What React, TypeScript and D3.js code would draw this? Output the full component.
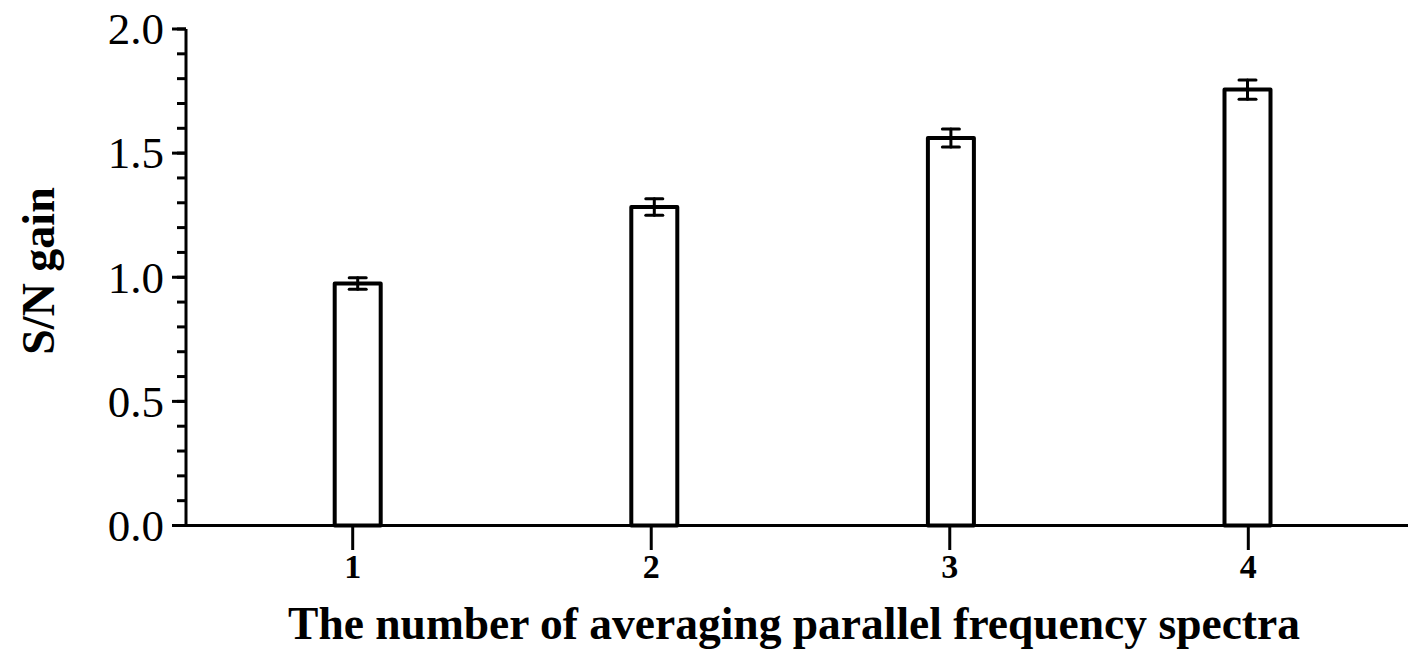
import React from "react";
import * as d3 from "d3";

// values
const categories = [1, 2, 3, 4];
const gains = [0.975, 1.283, 1.561, 1.756];
const errors = [0.023, 0.033, 0.036, 0.039];
const majorTicks = [0, 0.5, 1.0, 1.5, 2.0];
const minorTicks = d3.range(0, 2.001, 0.1);

const W = 1408;
const H = 651;
const font = "'Times New Roman', 'Liberation Serif', serif";

export default function App() {
  const y = d3.scaleLinear().domain([0, 2]).range([525.5, 29]);
  // tick positions and bar centres differ slightly in the original
  const x = d3.scaleLinear().domain([1, 4]).range([352.7, 1248.3]);
  const xBar = d3.scaleLinear().domain([1, 4]).range([357.7, 1247.5]);
  const axisX = 186;
  const barW = 46;
  const capW = 17;

  return (
    <svg
      width={W}
      height={H}
      style={{ position: "absolute", left: 0, top: 0, background: "#fff" }}
    >
      {/* y axis */}
      <line x1={axisX} x2={axisX} y1={y(2)} y2={y(0)} stroke="#000" strokeWidth={3} />
      {minorTicks.map((t) => (
        <line
          key={"mi" + t}
          x1={axisX - 9}
          x2={axisX}
          y1={y(t)}
          y2={y(t)}
          stroke="#000"
          strokeWidth={3}
        />
      ))}
      {majorTicks.map((t) => (
        <g key={"ma" + t}>
          <line x1={axisX - 14} x2={axisX} y1={y(t)} y2={y(t)} stroke="#000" strokeWidth={3} />
          <text
            x={axisX - 22}
            y={y(t)}
            dy="0.34em"
            textAnchor="end"
            fontFamily={font}
            fontSize={45}
          >
            {d3.format(".1f")(t)}
          </text>
        </g>
      ))}

      {/* x axis */}
      <line x1={axisX} x2={W} y1={y(0)} y2={y(0)} stroke="#000" strokeWidth={3} />
      {categories.map((c) => (
        <g key={"xt" + c}>
          <line x1={x(c)} x2={x(c)} y1={y(0)} y2={550} stroke="#000" strokeWidth={3} />
          <text
            x={x(c)}
            y={578}
            textAnchor="middle"
            fontFamily={font}
            fontWeight="bold"
            fontSize={34}
          >
            {c}
          </text>
        </g>
      ))}

      {/* bars */}
      {categories.map((c, i) => (
        <rect
          key={"b" + c}
          x={xBar(c) - barW / 2}
          y={y(gains[i])}
          width={barW}
          height={y(0) - y(gains[i])}
          fill="#fff"
          stroke="#000"
          strokeWidth={4}
          strokeLinejoin="round"
        />
      ))}

      {/* error bars */}
      {categories.map((c, i) => {
        const cx = xBar(c);
        const top = y(gains[i] + errors[i]);
        const bot = y(gains[i] - errors[i]);
        return (
          <g key={"e" + c} stroke="#000" strokeWidth={3} strokeLinecap="round">
            <line x1={cx} x2={cx} y1={top} y2={bot} />
            <line x1={cx - capW / 2} x2={cx + capW / 2} y1={top} y2={top} />
            <line x1={cx - capW / 2} x2={cx + capW / 2} y1={bot} y2={bot} />
          </g>
        );
      })}

      {/* axis titles */}
      <text
        x={794}
        y={639}
        textAnchor="middle"
        fontFamily={font}
        fontWeight="bold"
        fontSize={45.5}
      >
        The number of averaging parallel frequency spectra
      </text>
      <text
        transform={`translate(54,271) rotate(-90)`}
        textAnchor="middle"
        fontFamily={font}
        fontWeight="bold"
        fontSize={46}
      >
        S/N gain
      </text>
    </svg>
  );
}
